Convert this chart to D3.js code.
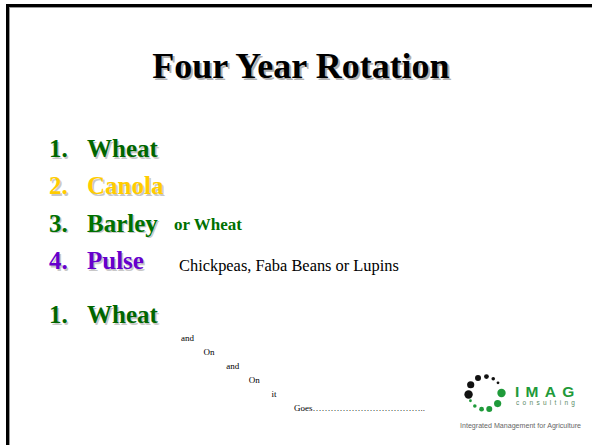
<!DOCTYPE html>
<html>
<head>
<meta charset="utf-8">
<script src="https://cdn.jsdelivr.net/npm/d3@7"></script>
<style>
 body { margin: 0; background: #fff; }
 svg { display: block; }
 .serif { font-family: "Liberation Serif", "Times New Roman", serif; }
</style>
</head>
<body>
<div id="slide"></div>
<script>
 // slide content
 var title = "Four Year Rotation";
 var steps = ["1.", "2.", "3.", "4.", "1."];
 var crops = ["Wheat", "Canola", "Barley", "Pulse", "Wheat"];
 var notes = ["", "", "or Wheat", "Chickpeas, Faba Beans or Lupins", ""];
 var stairWords = ["and", "On", "and", "On", "it", "Goes\u2026\u2026\u2026\u2026\u2026\u2026\u2026\u2026\u2026\u2026\u2026\u2026.."];
 var cropNames = ["Wheat", "Canola", "Barley", "Pulse"];
 var cropColors = ["#006600", "#ffcc00", "#007000", "#6600cc"];
 // logo ring: angle (deg, clockwise from top), radius, colour
 var dotAngles = [-95, -60, -25, 5, 30, 52, 90, 130, 165, 192, 218, 242];
 var dotSizes = [4.2, 3.6, 3.0, 2.4, 1.8, 1.4, 4.2, 3.6, 3.0, 2.4, 1.8, 1.4];
 var dotKinds = ["k", "k", "k", "k", "k", "k", "g", "g", "g", "g", "g", "g"];

 var W = 592, H = 445;
 var svg = d3.select("#slide").append("svg").attr("width", W).attr("height", H);

 // frame (top and left rules with a grey shadow)
 svg.append("line").attr("x1", 6).attr("x2", W).attr("y1", 7.5).attr("y2", 7.5).style("stroke", "#999").style("stroke-width", 1);
 svg.append("line").attr("x1", 9.5).attr("x2", 9.5).attr("y1", 6).attr("y2", H).style("stroke", "#999").style("stroke-width", 1);
 svg.append("line").attr("x1", 6).attr("x2", W).attr("y1", 5.5).attr("y2", 5.5).style("stroke", "#000").style("stroke-width", 3);
 svg.append("line").attr("x1", 7.5).attr("x2", 7.5).attr("y1", 4).attr("y2", H).style("stroke", "#000").style("stroke-width", 3);

 // title
 svg.append("text").attr("class", "serif")
   .attr("x", 301).attr("y", 78)
   .attr("text-anchor", "middle")
   .style("font-size", "36px").style("font-weight", "bold")
   .style("fill", "#000")
   .style("text-shadow", "2px 2px 0 #b0b0b0")
   .text(title);

 var colorScale = d3.scaleOrdinal().domain(cropNames).range(cropColors);
 var rowY = d3.scaleLinear().domain([0, 3]).range([157, 269]);
 function yFor(i) { return i < 4 ? rowY(i) : rowY(3) + 54; }

 var rows = svg.append("g").selectAll("g.row")
   .data(crops.map(function(c, i) { return {step: steps[i], crop: c, note: notes[i]}; }))
   .enter().append("g").attr("class", "row serif")
   .attr("transform", function(d, i) { return "translate(0," + yFor(i) + ")"; });

 rows.append("text").attr("x", 49)
   .style("font-size", "25px").style("font-weight", "bold")
   .style("fill", function(d) { return colorScale(d.crop); })
   .style("text-shadow", "1.5px 1.5px 0 #c8c8c8")
   .text(function(d) { return d.step; });

 rows.append("text").attr("x", 87)
   .style("font-size", "25px").style("font-weight", "bold")
   .style("fill", function(d) { return colorScale(d.crop); })
   .style("text-shadow", "1.5px 1.5px 0 #c8c8c8")
   .text(function(d) { return d.crop; });

 rows.filter(function(d) { return d.crop == "Barley"; }).append("text")
   .attr("x", 174).attr("y", -2)
   .style("font-size", "17px").style("font-weight", "bold")
   .style("fill", colorScale("Barley"))
   .text(function(d) { return d.note; });

 rows.filter(function(d) { return d.crop == "Pulse"; }).append("text")
   .attr("x", 179).attr("y", 2)
   .style("font-size", "16.4px")
   .style("fill", "#000")
   .text(function(d) { return d.note; });

 // "and On and On it Goes" staircase
 var stairX = d3.scaleLinear().domain([0, stairWords.length - 1]).range([181, 294]);
 var stairY = d3.scaleLinear().domain([0, stairWords.length - 1]).range([341, 411]);
 svg.append("g").attr("class", "serif").selectAll("text")
   .data(stairWords).enter().append("text")
   .attr("x", function(d, i) { return stairX(i); })
   .attr("y", function(d, i) { return stairY(i); })
   .style("font-size", "9px").style("fill", "#000")
   .text(function(d) { return d; });

 // IMAG logo
 var logo = svg.append("g").attr("transform", "translate(485,393)");
 logo.selectAll("circle").data(dotAngles).enter().append("circle")
   .attr("cx", function(d) { return 16.5 * Math.sin(d * Math.PI / 180); })
   .attr("cy", function(d) { return -16.5 * Math.cos(d * Math.PI / 180); })
   .attr("r", function(d, i) { return dotSizes[i]; })
   .style("fill", function(d, i) { return dotKinds[i] == "k" ? "#111" : "#1f9a3a"; });

 svg.append("text").attr("x", 515).attr("y", 397)
   .style("font-family", "'Liberation Sans', Arial, sans-serif")
   .style("font-size", "15.5px").style("font-weight", "bold")
   .style("letter-spacing", "6.3px")
   .style("fill", "#1f9a3a")
   .text("IMAG");
 svg.append("text").attr("x", 516).attr("y", 405)
   .style("font-family", "'Liberation Sans', Arial, sans-serif")
   .style("font-size", "6.5px")
   .style("letter-spacing", "3.3px")
   .style("fill", "#5a8a66")
   .text("consulting");
 svg.append("text").attr("x", 460).attr("y", 428)
   .style("font-family", "'Liberation Sans', Arial, sans-serif")
   .style("font-size", "7.1px")
   .style("fill", "#666")
   .text("Integrated Management for Agriculture");
</script>
</body>
</html>
